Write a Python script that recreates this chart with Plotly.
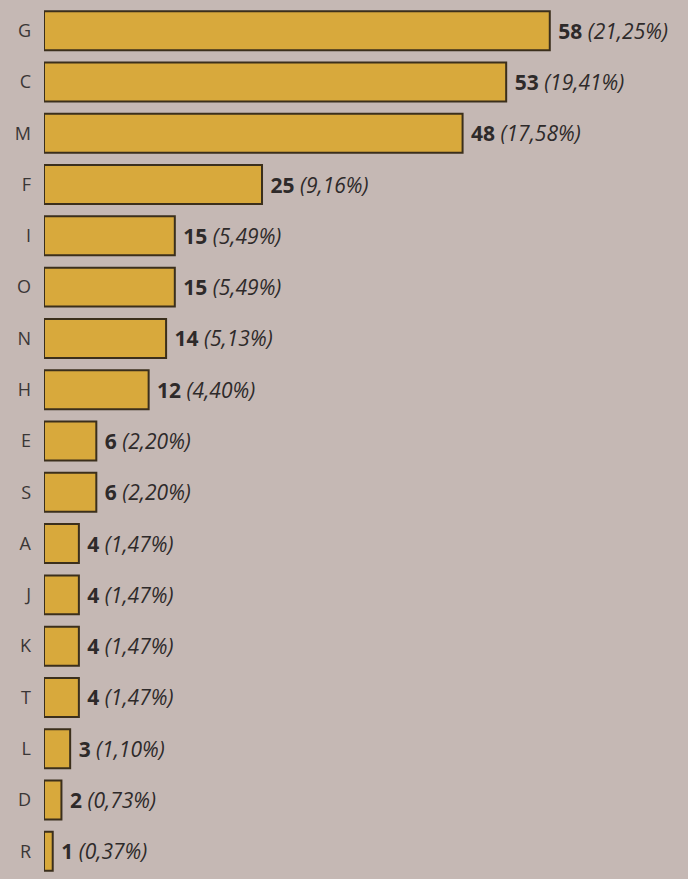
import plotly.graph_objects as go

categories = ["G", "C", "M", "F", "I", "O", "N", "H", "E", "S", "A", "J", "K", "T", "L", "D", "R"]
values = [58, 53, 48, 25, 15, 15, 14, 12, 6, 6, 4, 4, 4, 4, 3, 2, 1]
percent_labels = ["21,25%", "19,41%", "17,58%", "9,16%", "5,49%", "5,49%", "5,13%", "4,40%",
                  "2,20%", "2,20%", "1,47%", "1,47%", "1,47%", "1,47%", "1,10%", "0,73%", "0,37%"]

texts = [f"\u00a0<b>{v}</b> <i>({p})</i>" for v, p in zip(values, percent_labels)]

fig = go.Figure(go.Bar(
    x=values,
    y=categories,
    orientation="h",
    marker=dict(color="#d8a93c", line=dict(color="#3b2f1c", width=2)),
    text=texts,
    textposition="outside",
    textfont=dict(family="Open Sans, sans-serif", size=21, color="#2e2a2a"),
    cliponaxis=False,
))

fig.update_layout(
    width=688,
    height=879,
    margin=dict(l=44, r=0, t=5, b=2),
    paper_bgcolor="#c5b8b4",
    plot_bgcolor="#c5b8b4",
    bargap=0.24,
    showlegend=False,
    xaxis=dict(range=[0, 73.85], visible=False, fixedrange=True),
    yaxis=dict(
        categoryorder="array",
        categoryarray=categories[::-1],
        tickfont=dict(family="Open Sans, sans-serif", size=18, color="#3a3636"),
        ticklabelstandoff=12,
        showgrid=False,
        showline=False,
        zeroline=False,
    ),
)

fig.write_html(
    "out.html",
    config={"displayModeBar": False},
    post_script="document.body.style.margin='0';document.body.style.background='#c5b8b4';",
)
